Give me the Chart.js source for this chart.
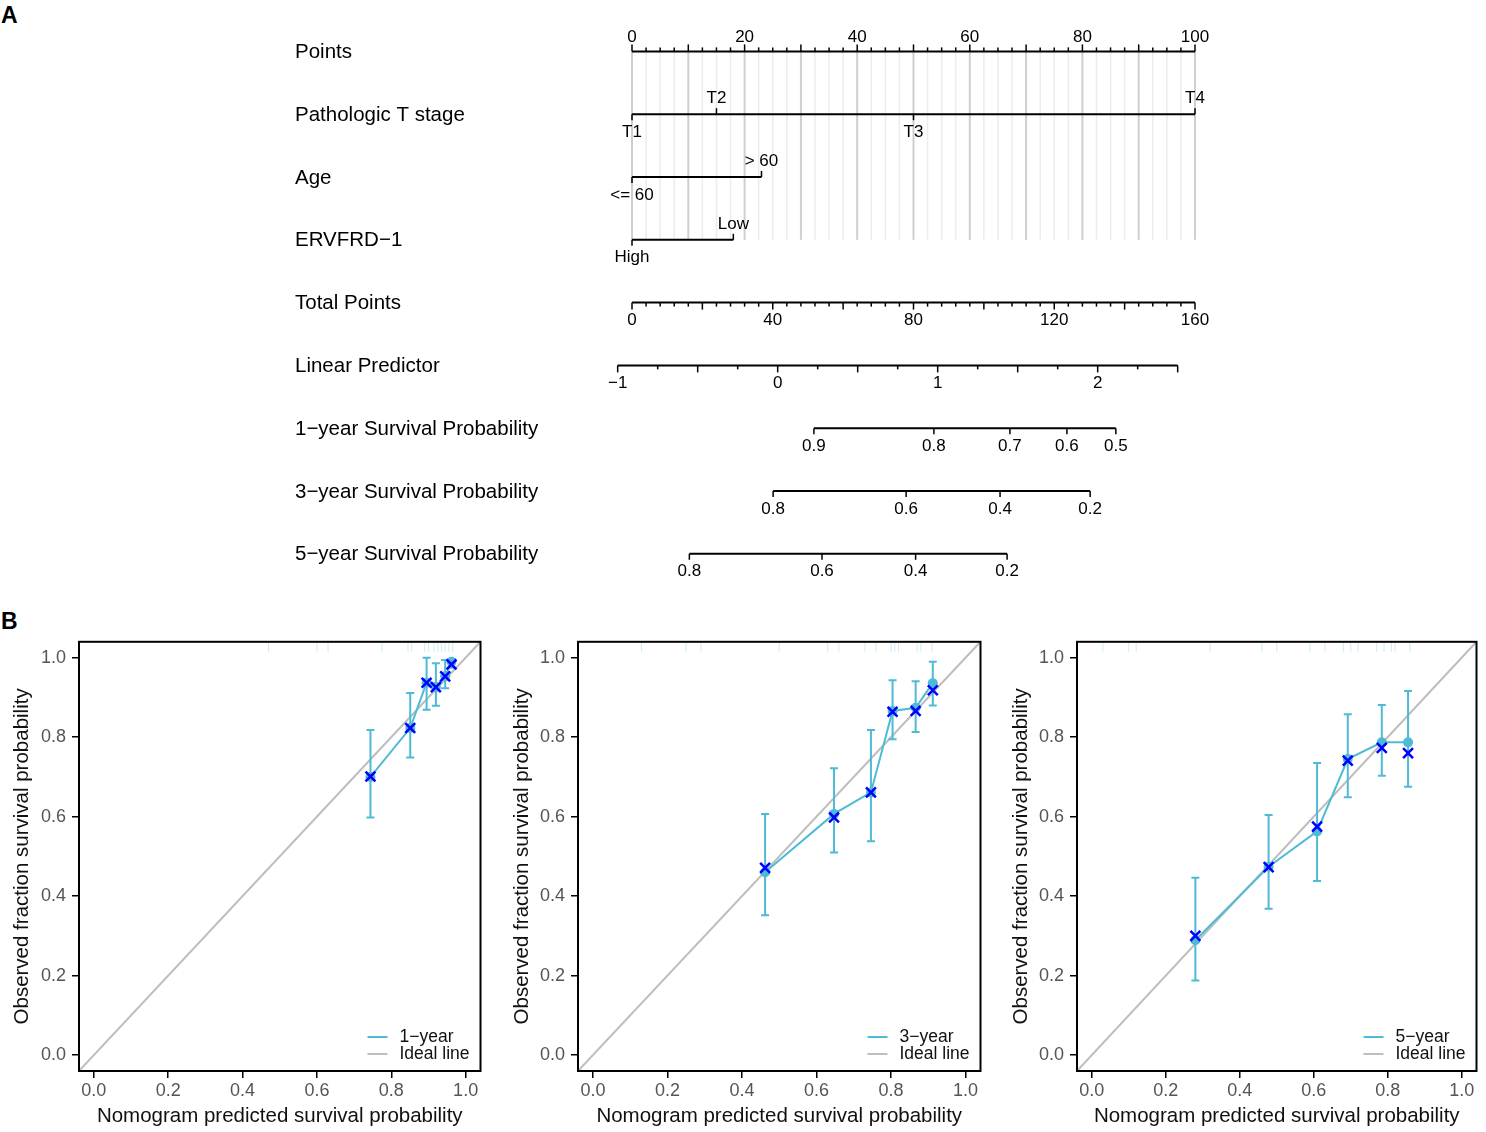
<!DOCTYPE html>
<html>
<head>
<meta charset="utf-8">
<script src="https://cdn.jsdelivr.net/npm/chart.js@4.4.0/dist/chart.umd.min.js"></script>
<style>
  body { margin: 0; background: #fff; width: 1486px; height: 1132px; overflow: hidden; position: relative;
         font-family: "Liberation Sans", Arial, sans-serif; }
  canvas { position: absolute; }
  .tag { position: absolute; font-weight: bold; font-size: 23px; line-height: 26px; }
</style>
</head>
<body>
<div class="tag" style="left:1px;top:2px">A</div>
<div class="tag" style="left:1px;top:608px">B</div>
<canvas id="nomo" width="1486" height="600" style="left:0;top:0;width:1486px;height:600px"></canvas>
<canvas id="cal1" width="490" height="507" style="left:0;top:625px;width:490px;height:507px"></canvas>
<canvas id="cal2" width="490" height="507" style="left:500px;top:625px;width:490px;height:507px"></canvas>
<canvas id="cal3" width="487" height="507" style="left:999px;top:625px;width:487px;height:507px"></canvas>
<script>
/* ===========================
   NOMOGRAM + CALIBRATION CURVES
   =========================== */

// --- nomogram (panel A) ---
const rowNames = ['Points', 'Pathologic T stage', 'Age', 'ERVFRD\u22121', 'Total Points', 'Linear Predictor',
    '1\u2212year Survival Probability', '3\u2212year Survival Probability', '5\u2212year Survival Probability'];
const pointsMax = 100;
const pointsLabels = [0, 20, 40, 60, 80, 100];
const tStageLevels = ['T1', 'T2', 'T3', 'T4'];
const tStagePoints = [0, 15, 50, 100];
const ageLevels = ['<= 60', '> 60'];
const agePoints = [0, 23];
const ervLevels = ['High', 'Low'];
const ervPoints = [0, 18];
const totalMax = 160;
const totalLabels = [0, 40, 80, 120, 160];
const lpLabels = [-1, 0, 1, 2];
const lpRange = [-1, 2.5];
const lpTotalAtZero = 41.4;
const lpTotalPerUnit = 45.47;
const surv1Probs = [0.9, 0.8, 0.7, 0.6, 0.5];
const surv1Total = [51.7, 85.8, 107.4, 123.6, 137.5];
const surv3Probs = [0.8, 0.6, 0.4, 0.2];
const surv3Total = [40.1, 77.9, 104.6, 130.2];
const surv5Probs = [0.8, 0.6, 0.4, 0.2];
const surv5Total = [16.3, 54.0, 80.6, 106.6];

// --- calibration (panel B) ---
const calTicks = [0, 0.2, 0.4, 0.6, 0.8, 1.0];
const calLimits = [-0.04, 1.04];

const cal1Pred = [0.744, 0.851, 0.895, 0.920, 0.945, 0.962];
const cal1Obs  = [0.700, 0.823, 0.937, 0.926, 0.953, 0.990];
const cal1Corr = [0.701, 0.823, 0.937, 0.926, 0.953, 0.983];
const cal1Lo   = [0.598, 0.749, 0.869, 0.879, 0.923, 0.975];
const cal1Hi   = [0.818, 0.911, 1.000, 0.986, 0.994, 0.997];
const cal1Rug  = [0.47, 0.60, 0.63, 0.775, 0.845, 0.855, 0.89, 0.90, 0.915, 0.925, 0.935, 0.945, 0.955, 0.965];

const cal3Pred = [0.462, 0.647, 0.746, 0.804, 0.866, 0.912];
const cal3Obs  = [0.460, 0.607, 0.661, 0.866, 0.874, 0.936];
const cal3Corr = [0.471, 0.598, 0.661, 0.864, 0.866, 0.918];
const cal3Lo   = [0.352, 0.510, 0.538, 0.795, 0.813, 0.880];
const cal3Hi   = [0.607, 0.722, 0.818, 0.943, 0.941, 0.990];
const cal3Rug  = [0.13, 0.25, 0.29, 0.50, 0.63, 0.66, 0.73, 0.76, 0.80, 0.81, 0.82, 0.87, 0.88, 0.91];

const cal5Pred = [0.280, 0.478, 0.609, 0.692, 0.784, 0.855];
const cal5Obs  = [0.289, 0.474, 0.563, 0.745, 0.787, 0.787];
const cal5Corr = [0.300, 0.473, 0.575, 0.741, 0.773, 0.760];
const cal5Lo   = [0.188, 0.368, 0.438, 0.649, 0.703, 0.675];
const cal5Hi   = [0.446, 0.604, 0.735, 0.858, 0.881, 0.916];
const cal5Rug  = [0.03, 0.10, 0.12, 0.32, 0.46, 0.50, 0.59, 0.63, 0.68, 0.70, 0.72, 0.77, 0.79, 0.81, 0.82, 0.86];

const cyan = '#4DBBD5';
const idealGrey = '#BEBEBE';
const FONT = '"Liberation Sans", Arial, sans-serif';
Chart.defaults.font.family = FONT;

const totalToX = t => t * pointsMax / totalMax;
const lpToX = l => totalToX(lpTotalAtZero + lpTotalPerUnit * l);
const minus = v => String(v).replace('-', '\u2212');

function rowLine(row, a, b) {
    return {
        data: [{ x: a, y: row }, { x: b, y: row }],
        showLine: true, borderColor: '#000', borderWidth: 2, pointRadius: 0
    };
}

function renderNomogram() {
    const datasets = [
        rowLine(0, 0, pointsMax),
        rowLine(1, Math.min(...tStagePoints), Math.max(...tStagePoints)),
        rowLine(2, Math.min(...agePoints), Math.max(...agePoints)),
        rowLine(3, Math.min(...ervPoints), Math.max(...ervPoints)),
        rowLine(4, totalToX(0), totalToX(totalMax)),
        rowLine(5, lpToX(lpRange[0]), lpToX(lpRange[1])),
        rowLine(6, totalToX(surv1Total[0]), totalToX(surv1Total[surv1Total.length - 1])),
        rowLine(7, totalToX(surv3Total[0]), totalToX(surv3Total[surv3Total.length - 1])),
        rowLine(8, totalToX(surv5Total[0]), totalToX(surv5Total[surv5Total.length - 1]))
    ];

    const labelColumn = 224.4; // room left of the plot for row names

    const nomoPlugin = {
        id: 'nomoAxes',
        beforeDatasetsDraw(chart) {
            const { ctx, scales: { x, y } } = chart;
            const yTop = y.getPixelForValue(0), yBot = y.getPixelForValue(3);
            ctx.save();
            for (let i = 0; i <= pointsMax / 2.5; i++) {
                const px = x.getPixelForValue(i * 2.5);
                const major = i % 4 === 0;
                ctx.strokeStyle = major ? '#cfcfcf' : '#ececec';
                ctx.lineWidth = major ? 2 : 1.5;
                ctx.beginPath(); ctx.moveTo(px, yTop); ctx.lineTo(px, yBot); ctx.stroke();
            }
            ctx.restore();
        },
        afterDatasetsDraw(chart) {
            const { ctx, chartArea, scales: { x, y } } = chart;
            ctx.save();

            // row names
            ctx.fillStyle = '#000';
            ctx.font = '20.5px ' + FONT;
            ctx.textAlign = 'left';
            ctx.textBaseline = 'middle';
            rowNames.forEach((n, i) => ctx.fillText(n, chartArea.left - labelColumn, y.getPixelForValue(i) + 1));

            ctx.strokeStyle = '#000';
            ctx.lineWidth = 1.5;
            ctx.font = '17px ' + FONT;
            ctx.textAlign = 'center';
            const tick = (v, row, len) => {
                const px = x.getPixelForValue(v), py = y.getPixelForValue(row);
                ctx.beginPath(); ctx.moveTo(px, py); ctx.lineTo(px, py + len); ctx.stroke();
            };
            const label = (s, v, row, off) => {
                ctx.fillText(s, x.getPixelForValue(v), y.getPixelForValue(row) + off);
            };

            // Points
            for (let i = 0; i <= pointsMax / 2.5; i++) tick(i * 2.5, 0, i % 4 === 0 ? -7 : -4);
            pointsLabels.forEach(v => label(String(v), v, 0, -14));

            // categorical rows, labels alternate below / above
            [[tStageLevels, tStagePoints, 1], [ageLevels, agePoints, 2], [ervLevels, ervPoints, 3]].forEach(([lv, pts, row]) => {
                lv.forEach((name, i) => {
                    const below = i % 2 === 0;
                    tick(pts[i], row, below ? 6 : -6);
                    label(name, pts[i], row, below ? 18 : -15.5);
                });
            });

            // Total Points
            for (let t = 0; t <= totalMax; t += 4) tick(totalToX(t), 4, t % 20 === 0 ? 7 : 4);
            totalLabels.forEach(t => label(String(t), totalToX(t), 4, 18));

            // Linear Predictor
            for (let l = lpRange[0]; l <= lpRange[1] + 1e-9; l += 0.25) tick(lpToX(l), 5, Math.abs(l * 2 - Math.round(l * 2)) < 1e-6 ? 7 : 4);
            lpLabels.forEach(l => label(minus(l), lpToX(l), 5, 18));

            // survival probabilities
            [[surv1Probs, surv1Total, 6], [surv3Probs, surv3Total, 7], [surv5Probs, surv5Total, 8]].forEach(([pr, tot, row]) => {
                pr.forEach((p, i) => {
                    tick(totalToX(tot[i]), row, 6);
                    label(String(p), totalToX(tot[i]), row, 18);
                });
            });
            ctx.restore();
        }
    };

    new Chart(document.getElementById('nomo'), {
        type: 'scatter',
        data: { datasets },
        options: {
            responsive: false,
            animation: false,
            layout: { padding: { left: 295 + labelColumn, right: 178.4, top: 20, bottom: 14.8 } },
            plugins: { legend: { display: false }, tooltip: { enabled: false } },
            scales: {
                x: { type: 'linear', display: false, min: -20, max: 120 },
                y: { type: 'linear', display: false, reverse: true, min: -0.5, max: 8.5 }
            }
        },
        plugins: [nomoPlugin]
    });
}

function renderCalibration(id, label, pred, obs, corr, lo, hi, rug, yWidth, padRight) {
    const calPlugin = {
        id: 'calExtras',
        afterDatasetDraw(chart, args) {
            if (args.index !== 0) return;
            const { ctx, scales: { x, y } } = chart;
            ctx.save();
            ctx.strokeStyle = cyan;
            ctx.lineWidth = 2;
            pred.forEach((p, i) => {
                const px = x.getPixelForValue(p);
                const pLo = y.getPixelForValue(lo[i]), pHi = y.getPixelForValue(hi[i]);
                ctx.beginPath();
                ctx.moveTo(px, pLo); ctx.lineTo(px, pHi);
                ctx.moveTo(px - 4, pLo); ctx.lineTo(px + 4, pLo);
                ctx.moveTo(px - 4, pHi); ctx.lineTo(px + 4, pHi);
                ctx.stroke();
            });
            ctx.restore();
        },
        afterDatasetsDraw(chart) {
            const { ctx, chartArea: a, scales: { x } } = chart;
            ctx.save();
            // rug of predicted values
            ctx.strokeStyle = 'rgba(77,187,213,0.28)';
            ctx.lineWidth = 1;
            rug.forEach(r => {
                const px = x.getPixelForValue(r);
                ctx.beginPath(); ctx.moveTo(px, a.top + 1); ctx.lineTo(px, a.top + 10); ctx.stroke();
            });
            // box
            ctx.strokeStyle = '#000';
            ctx.lineWidth = 2;
            ctx.strokeRect(a.left, a.top, a.right - a.left, a.bottom - a.top);
            // legend
            const entries = [chart.data.datasets[1], chart.data.datasets[0]];
            ctx.font = '17.5px ' + FONT;
            ctx.textBaseline = 'middle';
            ctx.textAlign = 'left';
            entries.forEach((d, i) => {
                const ly = a.bottom - 34 + i * 17;
                ctx.strokeStyle = d.borderColor;
                ctx.lineWidth = 2;
                ctx.beginPath(); ctx.moveTo(a.right - 113, ly); ctx.lineTo(a.right - 93, ly); ctx.stroke();
                ctx.fillStyle = '#111';
                ctx.fillText(d.label, a.right - 81, ly);
            });
            ctx.restore();
        }
    };

    const axis = (title, isX) => ({
        type: 'linear', min: calLimits[0], max: calLimits[1],
        afterBuildTicks: s => { s.ticks = calTicks.map(v => ({ value: v })); },
        afterFit: s => { if (isX) s.height = 61; else s.width = yWidth; },
        grid: { drawOnChartArea: false, tickLength: 7, color: '#000', lineWidth: 1.5 },
        border: { display: false },
        ticks: {
            autoSkip: false, maxRotation: 0, color: '#555', padding: isX ? 2 : 6,
            font: { size: 18 }, callback: v => v.toFixed(1)
        },
        title: {
            display: true, text: title, color: '#111', font: { size: 20.5 },
            padding: isX ? { top: 0, bottom: 3 } : { top: 10, bottom: 0 }
        }
    });

    new Chart(document.getElementById(id), {
        type: 'scatter',
        data: {
            datasets: [
                {
                    label: 'Ideal line', order: 3,
                    data: calLimits.map(v => ({ x: v, y: v })),
                    showLine: true, borderColor: idealGrey, borderWidth: 2, pointRadius: 0
                },
                {
                    label: label, order: 2,
                    data: pred.map((p, i) => ({ x: p, y: obs[i] })),
                    showLine: true, borderColor: cyan, backgroundColor: cyan, borderWidth: 2,
                    pointRadius: 5, pointBorderWidth: 0
                },
                {
                    label: 'corrected', order: 1,
                    data: pred.map((p, i) => ({ x: p, y: corr[i] })),
                    showLine: false, pointStyle: 'crossRot', pointRadius: 7,
                    borderColor: '#0000FF', pointBorderWidth: 2.5
                }
            ]
        },
        options: {
            responsive: false,
            animation: false,
            layout: { padding: { left: 0, right: padRight, top: 16, bottom: 0 } },
            plugins: { legend: { display: false }, tooltip: { enabled: false } },
            scales: {
                x: axis('Nomogram predicted survival probability', true),
                y: axis('Observed fraction survival probability', false)
            }
        },
        plugins: [calPlugin]
    });
}

renderNomogram();
renderCalibration('cal1', '1\u2212year', cal1Pred, cal1Obs, cal1Corr, cal1Lo, cal1Hi, cal1Rug, 79, 8);
renderCalibration('cal2', '3\u2212year', cal3Pred, cal3Obs, cal3Corr, cal3Lo, cal3Hi, cal3Rug, 78, 9);
renderCalibration('cal3', '5\u2212year', cal5Pred, cal5Obs, cal5Corr, cal5Lo, cal5Hi, cal5Rug, 78, 5);
</script>
</body>
</html>
